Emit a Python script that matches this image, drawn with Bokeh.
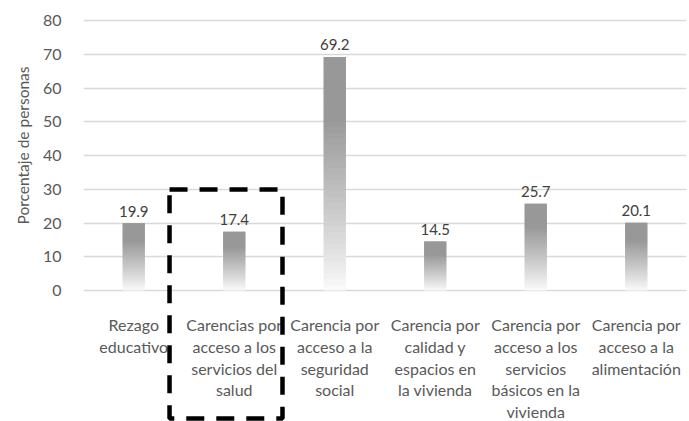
from bokeh.plotting import figure
from bokeh.models import FactorRange, Range1d, FixedTicker, BoxAnnotation, ColumnDataSource, Title
from bokeh.core.properties import value
from bokeh.embed import file_html
from bokeh.resources import INLINE

categories = [
    "Rezago\neducativo",
    "Carencias por\nacceso a los\nservicios del\nsalud",
    "Carencia por\nacceso a la\nseguridad\nsocial",
    "Carencia por\ncalidad y\nespacios en\nla vivienda",
    "Carencia por\nacceso a los\nservicios\nbásicos en la\nvivienda",
    "Carencia por\nacceso a la\nalimentación",
]
values = [19.9, 17.4, 69.2, 14.5, 25.7, 20.1]
y_ticks = [0, 10, 20, 30, 40, 50, 60, 70, 80]
y_title = "Porcentaje de personas"

FONT = "Lato"

p = figure(
    width=689, height=421,
    x_range=FactorRange(factors=categories, range_padding=0),
    y_range=Range1d(-38.81, 85.93),
    output_backend="svg", toolbar_location=None,
    min_border_left=83, min_border_right=3, min_border_top=0, min_border_bottom=0,
)
p.outline_line_color = None
p.background_fill_color = "white"
p.border_fill_color = "white"

# gradient bars built from stacked, overlapping slices of each value
N = 40
xs, bottoms, tops, colors = [], [], [], []
for c, v in zip(categories, values):
    for k in range(N):
        f0 = k / N
        f1 = min(1.0, (k + 2) / N)
        t = (k + 0.5) / N
        g = int(round(252 - (252 - 152) * min(1.0, t * 1.35) ** 0.9))
        xs.append(c)
        bottoms.append(v * f0)
        tops.append(v * f1)
        colors.append("#%02x%02x%02x" % (g, g, g))
src = ColumnDataSource(dict(x=xs, bottom=bottoms, top=tops, color=colors))
p.vbar(x="x", bottom="bottom", top="top", width=0.22, source=src,
       fill_color="color", line_color=None)

lab = ColumnDataSource(dict(x=categories, y=values, t=["%.1f" % v for v in values]))
p.text(x="x", y="y", text="t", source=lab, text_align="center", text_baseline="alphabetic",
       y_offset=-12, text_font=value(FONT), text_font_size="15px", text_color="#404040")

# category labels under the chart
cat_y = [-7.2] * len(categories)
cl = ColumnDataSource(dict(x=categories, y=cat_y, t=categories))
p.text(x="x", y="y", text="t", source=cl, text_align="center", text_baseline="top",
       text_font=value(FONT), text_font_size="16px", text_color="#595959",
       text_line_height=1.15)

# dashed highlight box
box = BoxAnnotation(left=0.856, right=1.98, top=29.9, bottom=-37.9,
                    fill_color=None, fill_alpha=0, line_color="black", line_alpha=1.0,
                    line_width=4.5, line_dash="18 12", level="overlay")
p.add_layout(box)

p.xaxis.visible = False

p.yaxis.ticker = FixedTicker(ticks=y_ticks)
p.yaxis.axis_line_color = None
p.yaxis.major_tick_line_color = None
p.yaxis.minor_tick_line_color = None
p.yaxis.major_label_standoff = 16
p.yaxis.major_label_text_font = FONT
p.yaxis.major_label_text_font_size = "16px"
p.yaxis.major_label_text_color = "#595959"

t = Title(text=y_title, align="right", offset=66, vertical_align="middle",
          text_font=FONT, text_font_size="15.5px", text_font_style="normal",
          text_color="#595959", standoff=14)
p.add_layout(t, "left")

p.xgrid.grid_line_color = None
p.ygrid.grid_line_color = "#d9d9d9"
p.ygrid.grid_line_width = 1.5

open("out.html", "w").write(file_html(p, INLINE))
